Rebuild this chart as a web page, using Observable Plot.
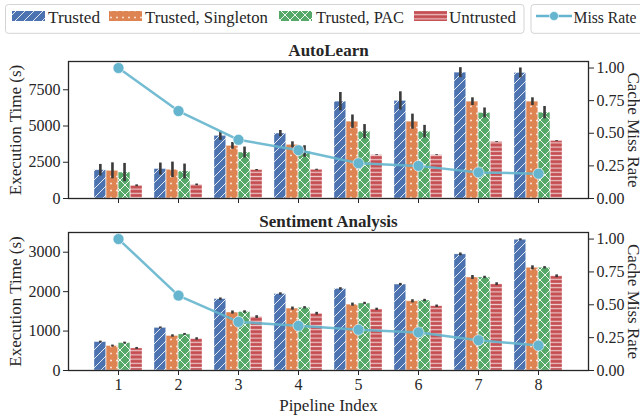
<!DOCTYPE html>
<html><head><meta charset="utf-8">
<script src="https://cdn.jsdelivr.net/npm/d3@7"></script>
<script src="https://cdn.jsdelivr.net/npm/@observablehq/plot@0.6"></script>
<style>
html,body{margin:0;padding:0;overflow:hidden;background:#fff;width:640px;height:417px;}
body{font-family:"Liberation Serif",serif;}
svg{display:block;}
#defs{position:absolute;width:0;height:0;}
</style>
</head><body>
<svg id="defs" width="0" height="0">
  <defs>
    <pattern id="pat0" patternUnits="userSpaceOnUse" width="9" height="9">
      <rect width="9" height="9" fill="#4C72B0"/>
      <path d="M0,9 L9,0 M-2.25,2.25 L2.25,-2.25 M6.75,11.25 L11.25,6.75" stroke="rgba(255,255,255,0.85)" stroke-width="1"/>
    </pattern>
    <pattern id="pat1" patternUnits="userSpaceOnUse" width="6" height="7">
      <rect width="6" height="7" fill="#DD8452"/>
      <rect x="2.2" y="2.7" width="1.6" height="1.6" fill="rgba(255,255,255,0.9)"/>
    </pattern>
    <pattern id="pat2" patternUnits="userSpaceOnUse" width="10" height="10">
      <rect width="10" height="10" fill="#55A868"/>
      <path d="M0,0 L10,10 M10,0 L0,10" stroke="rgba(255,255,255,0.9)" stroke-width="1"/>
    </pattern>
    <pattern id="pat3" patternUnits="userSpaceOnUse" width="4" height="4.2">
      <rect width="4" height="4.2" fill="#C44E52"/>
      <rect x="0" y="1.5" width="4" height="1.2" fill="rgba(255,255,255,0.7)"/>
    </pattern>
  </defs>
</svg>
<div id="legend"></div>
<div id="chart"></div>
<script>
// ---- data ----
const pipelines = [1, 2, 3, 4, 5, 6, 7, 8];
const seriesNames = ["Trusted", "Trusted, Singleton", "Trusted, PAC", "Untrusted"];
const missLabel = "Miss Rate";

// AutoLearn execution time (s)
const autoTrusted   = [1950, 2030, 4320, 4480, 6680, 6730, 8680, 8660];
const autoSingleton = [1910, 1980, 3630, 3700, 5300, 5300, 6680, 6680];
const autoPAC       = [1790, 1860, 3170, 3240, 4610, 4610, 5900, 5920];
const autoUntrusted = [ 880,  940, 1960, 1980, 2990, 2990, 3900, 3970];
const autoTrustedErr   = [400, 415, 310, 210, 630, 630, 345, 345];
const autoSingletonErr = [550, 530, 230, 210, 460, 520, 265, 265];
const autoPACErr       = [630, 515, 380, 400, 490, 435, 345, 425];
const autoUntrustedErr = [ 60,  60,  40,  40,  30,  30,  30,  30];
const autoMiss = [1.00, 0.67, 0.45, 0.37, 0.27, 0.25, 0.20, 0.19];

// Sentiment Analysis execution time (s)
const sentTrusted   = [720, 1080, 1810, 1940, 2070, 2180, 2945, 3315];
const sentSingleton = [620,  875, 1470, 1570, 1670, 1755, 2360, 2605];
const sentPAC       = [695,  915, 1485, 1590, 1700, 1775, 2360, 2605];
const sentUntrusted = [560,  800, 1355, 1440, 1550, 1630, 2190, 2390];
const sentTrustedErr   = [25, 25, 30, 30, 30, 30, 35, 25];
const sentSingletonErr = [25, 30, 40, 40, 40, 40, 50, 50];
const sentPACErr       = [25, 25, 30, 30, 30, 30, 30, 30];
const sentUntrustedErr = [25, 30, 35, 35, 30, 30, 35, 35];
const sentMiss = [1.00, 0.57, 0.37, 0.34, 0.31, 0.29, 0.23, 0.19];

const autoTicks = [0, 2500, 5000, 7500];
const sentTicks = [0, 1000, 2000, 3000];
const missTicks = [0, 0.25, 0.5, 0.75, 1.0];

// ---- layout ----
const W = 640, ML = 68, MR = 52;
const step = (W - ML - MR) / 8.6, bw = step * 0.8, sub = bw / 4;
const lineColor = "#64B5CD";
const ink = "#262626";

function panel({title, values, errs, miss, ymax, yticks, height, mt, mb, showX}) {
  const k = ymax / 1.05;
  const marks = [];
  values.forEach((vals, i) => {
    const data = pipelines.map((p, j) => ({p, v: vals[j], e: errs[i][j]}));
    marks.push(Plot.barY(data, {x: "p", y: "v", fill: `url(#pat${i})`,
      insetLeft: i * sub, insetRight: (3 - i) * sub,
      stroke: "#fff", strokeOpacity: 0.45, strokeWidth: 0.8}));
  });
  values.forEach((vals, i) => {
    const data = pipelines.map((p, j) => ({p, v: vals[j], e: errs[i][j]}));
    marks.push(Plot.ruleX(data, {x: "p", y1: d => d.v - d.e, y2: d => d.v + d.e,
      dx: (i - 1.5) * sub, stroke: "#3a3a3a", strokeWidth: 2.6}));
  });
  const md = pipelines.map((p, j) => ({p, m: miss[j]}));
  marks.push(Plot.line(md, {x: "p", y: d => d.m * k, stroke: lineColor, strokeWidth: 2.5, strokeOpacity: 0.9}));
  marks.push(Plot.dot(md, {x: "p", y: d => d.m * k, r: 5.5, fill: lineColor, stroke: "#fff", strokeOpacity: 0.6, strokeWidth: 1}));
  marks.push(Plot.frame({stroke: ink, strokeWidth: 1.3}));
  marks.push(Plot.axisY({anchor: "left", ticks: yticks, tickSize: 5, tickPadding: 3, label: null,
    tickFormat: d => String(d)}));
  marks.push(Plot.axisY({anchor: "right", ticks: missTicks.map(v => v * k),
    tickFormat: v => (v / k).toFixed(2), tickSize: 5, tickPadding: 3, label: null}));
  marks.push(Plot.axisX({tickSize: 5, tickPadding: 3, label: null,
    tickFormat: showX ? (d => String(d)) : (() => "")}));
  marks.push(Plot.text([title], {frameAnchor: "top", lineAnchor: "middle", textAnchor: "middle", dy: -11,
    text: d => d, fontWeight: "bold", fontSize: 17, fill: ink}));
  marks.push(Plot.text(["Execution Time (s)"], {frameAnchor: "left", textAnchor: "middle", lineAnchor: "middle",
    dx: -53, rotate: -90, text: d => d, fontSize: 17, fill: ink}));
  marks.push(Plot.text(["Cache Miss Rate"], {frameAnchor: "right", textAnchor: "middle", lineAnchor: "middle",
    dx: 45, rotate: 90, text: d => d, fontSize: 17, fill: ink}));
  if (showX) {
    marks.push(Plot.text(["Pipeline Index"], {frameAnchor: "bottom", lineAnchor: "middle", textAnchor: "middle",
      dy: 35, text: d => d, fontSize: 17, fill: ink}));
  }
  return Plot.plot({
    width: W, height, marginLeft: ML, marginRight: MR, marginTop: mt, marginBottom: mb,
    x: {type: "band", domain: pipelines, paddingInner: 0.2, paddingOuter: 0.4, label: null},
    y: {domain: [0, ymax], label: null},
    style: {fontFamily: "Liberation Serif", fontSize: "16px", color: ink, background: "white", overflow: "visible"},
    marks
  });
}

const chart = document.getElementById("chart");
chart.appendChild(panel({
  title: "AutoLearn",
  values: [autoTrusted, autoSingleton, autoPAC, autoUntrusted],
  errs: [autoTrustedErr, autoSingletonErr, autoPACErr, autoUntrustedErr],
  miss: autoMiss, ymax: 9450, yticks: autoTicks, height: 170, mt: 21, mb: 12, showX: false
}));
chart.appendChild(panel({
  title: "Sentiment Analysis",
  values: [sentTrusted, sentSingleton, sentPAC, sentUntrusted],
  errs: [sentTrustedErr, sentSingletonErr, sentPACErr, sentUntrustedErr],
  miss: sentMiss, ymax: 3500, yticks: sentTicks, height: 207, mt: 22, mb: 47, showX: true
}));

// ---- legend ----
const lg = d3.select("#legend").append("svg").attr("width", 640).attr("height", 40)
  .style("font-family", "Liberation Serif").style("font-size", "17px");
lg.append("rect").attr("x", 5.5).attr("y", 4.5).attr("width", 518.5).attr("height", 28.8)
  .attr("rx", 3).attr("fill", "#fff").attr("stroke", "#d4d4d4");
lg.append("rect").attr("x", 531).attr("y", 4.5).attr("width", 130).attr("height", 28.8)
  .attr("rx", 3).attr("fill", "#fff").attr("stroke", "#d4d4d4");
const patchX = [12, 109, 279, 414];
const textX = [48, 145, 316, 449];
const textW = [52, 123, 88, 67];
seriesNames.forEach((s, i) => {
  lg.append("rect").attr("x", patchX[i]).attr("y", 11).attr("width", 33).attr("height", 10)
    .attr("fill", `url(#pat${i})`);
  lg.append("text").attr("x", textX[i]).attr("y", 23.3).attr("fill", ink)
    .attr("textLength", textW[i]).attr("lengthAdjust", "spacingAndGlyphs").text(s);
});
lg.append("line").attr("x1", 536).attr("x2", 572).attr("y1", 16).attr("y2", 16)
  .attr("stroke", lineColor).attr("stroke-width", 2.5);
lg.append("circle").attr("cx", 554).attr("cy", 16).attr("r", 4.5).attr("fill", lineColor)
  .attr("stroke", "#fff").attr("stroke-opacity", 0.6);
lg.append("text").attr("x", 573.5).attr("y", 23.3).attr("fill", ink)
  .attr("textLength", 63).attr("lengthAdjust", "spacingAndGlyphs").text(missLabel);
</script>
</body></html>
